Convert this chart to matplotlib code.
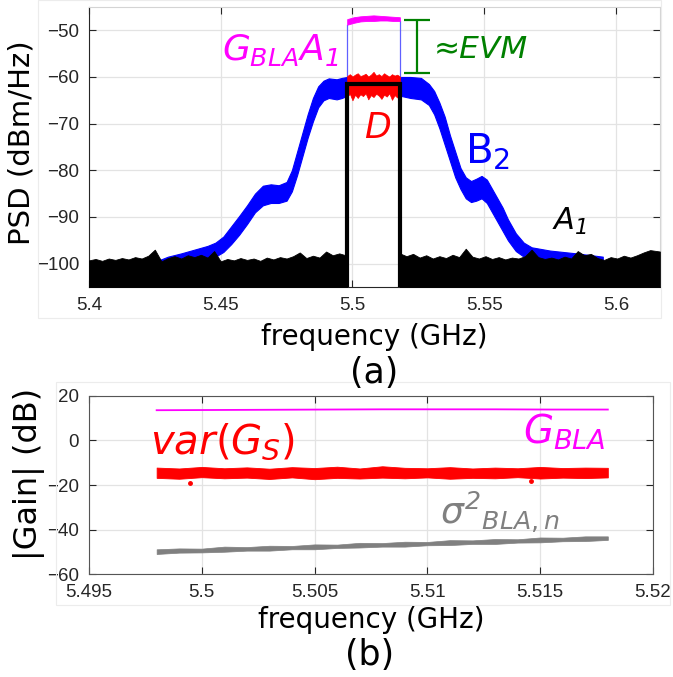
import matplotlib
matplotlib.use("Agg")
import matplotlib.pyplot as plt
from matplotlib.patches import Rectangle

plt.rcParams['font.family'] = ['DejaVu Sans']
plt.rcParams['mathtext.fontset'] = 'custom'
plt.rcParams['mathtext.rm'] = 'DejaVu Sans'
plt.rcParams['mathtext.it'] = 'DejaVu Sans:italic'
plt.rcParams['mathtext.bf'] = 'DejaVu Sans:bold'
# \mathsf used for slanted digits in subscripts
plt.rcParams['mathtext.sf'] = 'DejaVu Sans:italic'

# ---- (a) PSD spectra ----
# A1 noise floor, top edge (dBm/Hz), left and right of the band
a1_left_f = [5.4000, 5.4025, 5.4050, 5.4075, 5.4100, 5.4125, 5.4150, 5.4175, 5.4200, 5.4225,
             5.4250, 5.4275, 5.4300, 5.4325, 5.4350, 5.4375, 5.4400, 5.4425, 5.4450, 5.4475,
             5.4500, 5.4525, 5.4550, 5.4575, 5.4600, 5.4625, 5.4650, 5.4675, 5.4700, 5.4725,
             5.4750, 5.4775, 5.4800, 5.4825, 5.4850, 5.4875, 5.4900, 5.4925, 5.4950, 5.4980]
a1_left_top = [-99.3, -99.0, -99.4, -98.9, -99.2, -98.8, -99.1, -98.6, -98.9, -98.3,
               -97.0, -99.5, -98.8, -98.4, -98.9, -98.2, -98.6, -98.1, -98.7, -97.3,
               -99.5, -99.0, -99.3, -98.8, -99.2, -98.9, -99.4, -98.7, -99.1, -98.6,
               -98.9, -98.4, -97.6, -98.8, -98.3, -98.7, -97.4, -98.2, -97.8, -98.3]
a1_right_f = [5.5180, 5.5205, 5.5230, 5.5255, 5.5280, 5.5305, 5.5330, 5.5355, 5.5380, 5.5405,
              5.5430, 5.5455, 5.5480, 5.5505, 5.5530, 5.5555, 5.5580, 5.5605, 5.5630, 5.5655,
              5.5680, 5.5705, 5.5730, 5.5755, 5.5780, 5.5805, 5.5830, 5.5855, 5.5880, 5.5905,
              5.5930, 5.5955, 5.5980, 5.6005, 5.6030, 5.6055, 5.6080, 5.6105, 5.6130, 5.6167]
a1_right_top = [-97.8, -98.4, -97.9, -98.7, -98.2, -98.9, -98.4, -98.8, -98.1, -98.6,
                -96.8, -98.5, -98.9, -98.4, -99.0, -98.6, -99.1, -98.7, -98.9, -98.4,
                -97.0, -98.6, -99.0, -98.7, -99.1, -98.5, -98.9, -97.3, -98.2, -97.9,
                -98.8, -99.2, -98.6, -98.9, -98.3, -98.7, -98.2, -97.6, -97.1, -97.4]
a1_band_edges = [5.498, 5.518]
a1_band_level = -61.4

# B2 output spectrum envelope
b2_left_f = [5.4255, 5.430, 5.435, 5.440, 5.445, 5.448, 5.451, 5.454, 5.457, 5.460,
             5.463, 5.466, 5.469, 5.472, 5.475, 5.477, 5.479, 5.481, 5.483, 5.485,
             5.487, 5.489, 5.491, 5.494, 5.496, 5.498]
b2_left_lo = [-100.0, -99.8, -99.5, -99.3, -99.0, -98.5, -97.5, -95.8, -93.8, -91.5,
              -89.0, -87.5, -87.0, -87.0, -86.5, -84.5, -81.0, -77.0, -73.0, -69.5,
              -66.5, -65.0, -64.5, -64.8, -64.5, -64.0]
b2_left_hi = [-99.5, -98.5, -97.8, -97.0, -96.2, -95.5, -94.2, -92.0, -89.8, -87.5,
              -85.0, -83.3, -83.0, -83.2, -82.5, -80.0, -76.0, -72.0, -68.0, -64.5,
              -62.0, -60.8, -60.3, -60.5, -60.2, -60.0]
b2_right_f = [5.518, 5.522, 5.526, 5.529, 5.531, 5.533, 5.535, 5.537, 5.539, 5.541,
              5.543, 5.545, 5.547, 5.549, 5.551, 5.553, 5.555, 5.557, 5.559, 5.562,
              5.565, 5.568, 5.575, 5.585, 5.595]
b2_right_lo = [-64.0, -64.5, -64.8, -66.0, -68.0, -71.0, -74.5, -78.0, -81.5, -84.0,
               -86.0, -86.8, -86.5, -86.0, -87.0, -89.0, -91.0, -93.0, -95.0, -97.3,
               -98.5, -99.0, -99.2, -99.5, -100.0]
b2_right_hi = [-60.0, -60.0, -60.2, -61.5, -63.0, -65.5, -68.5, -72.5, -76.0, -79.5,
               -81.5, -82.3, -81.8, -81.2, -82.0, -84.0, -86.0, -88.0, -90.5, -93.5,
               -95.5, -96.5, -97.2, -97.8, -98.5]

# G_BLA * A1 (linear part)
ga_f = [5.498, 5.5005, 5.503, 5.5055, 5.508, 5.5105, 5.513, 5.5155, 5.518]
ga_hi = [-47.6, -47.2, -47.0, -46.9, -46.8, -46.9, -47.0, -47.1, -47.2]
ga_lo = [-48.8, -48.4, -48.1, -48.0, -48.0, -47.9, -47.9, -48.0, -48.0]

# D (distortion) inside the band
d_f = [5.498, 5.499, 5.500, 5.501, 5.502, 5.503, 5.504, 5.505, 5.506, 5.507, 5.508,
       5.509, 5.510, 5.511, 5.512, 5.513, 5.514, 5.515, 5.516, 5.517, 5.518]
d_hi = [-59.8, -59.4, -59.9, -59.5, -59.2, -59.8, -59.6, -59.3, -59.9, -59.5, -58.9,
        -59.7, -59.4, -59.8, -59.2, -59.6, -59.9, -59.4, -59.7, -59.5, -59.9]
d_lo = [-64.2, -63.6, -65.0, -63.8, -64.5, -63.7, -64.1, -63.5, -64.8, -63.9, -64.3,
        -63.6, -64.0, -64.7, -63.8, -64.2, -63.5, -64.9, -63.9, -64.4, -64.0]

# EVM marker
evm_f = 5.5244
evm_top, evm_bot = -47.8, -59.1

# ---- (b) gains ----
g_f = [5.498, 5.5005, 5.503, 5.5055, 5.508, 5.5105, 5.513, 5.5155, 5.518]
g_bla = [13.5, 13.6, 13.7, 13.8, 13.9, 13.9, 13.9, 13.8, 13.8]

b_f = [5.498, 5.499, 5.500, 5.501, 5.502, 5.503, 5.504, 5.505, 5.506, 5.507, 5.508,
       5.509, 5.510, 5.511, 5.512, 5.513, 5.514, 5.515, 5.516, 5.517, 5.518]
vs_hi = [-12.2, -12.6, -11.9, -12.5, -12.1, -12.7, -12.0, -12.4, -11.8, -12.6, -11.6,
         -12.3, -12.5, -12.0, -12.6, -12.2, -12.5, -11.9, -12.4, -12.2, -12.3]
vs_lo = [-16.8, -17.2, -16.5, -17.0, -16.7, -17.3, -16.6, -17.4, -16.8, -17.1, -16.7,
         -17.0, -16.6, -17.2, -16.8, -17.0, -16.5, -17.1, -16.7, -16.9, -16.6]
vs_out_f = [5.4995, 5.5146]
vs_out = [-19.2, -18.3]

sg_hi = [-48.8, -48.4, -48.5, -47.6, -47.8, -47.2, -47.3, -46.6, -46.7, -45.9, -46.0,
         -45.4, -45.5, -44.7, -44.8, -44.2, -44.3, -43.5, -43.6, -43.0, -43.0]
sg_lo = [-50.9, -50.3, -50.2, -49.9, -49.4, -49.4, -48.8, -48.8, -48.2, -48.0, -47.6,
         -47.6, -47.0, -46.9, -46.4, -46.4, -45.8, -45.7, -45.2, -45.1, -44.6]

top_xticks = [5.4, 5.45, 5.5, 5.55, 5.6]
top_yticks = [-100, -90, -80, -70, -60, -50]
bot_xticks = [5.495, 5.5, 5.505, 5.51, 5.515, 5.52]
bot_xlabels = ['5.495', '5.5', '5.505', '5.51', '5.515', '5.52']
bot_yticks = [-60, -40, -20, 0, 20]

MAG = '#ff00ff'
RED = '#ff0000'
BLUE = '#0000ff'
GREEN = '#008000'
GRAY = '#808080'
TICK = '#262626'

fig = plt.figure(figsize=(6.73, 6.77), dpi=100)

# faint panel frames
fig.patches.append(Rectangle((38 / 673, 1 - 318 / 677), (661 - 38) / 673, 318 / 677,
                             transform=fig.transFigure, fill=False, ec='#ececec', lw=0.8))
fig.patches.append(Rectangle((56 / 673, 1 - 605 / 677), (670 - 56) / 673, (605 - 382) / 677,
                             transform=fig.transFigure, fill=False, ec='#ececec', lw=0.8))

ax1 = fig.add_axes([0.1322, 0.5761, 0.8484, 0.4136])
ax2 = fig.add_axes([0.1322, 0.1517, 0.8380, 0.2638])


def style(ax):
    ax.grid(True, color='#e3e3e3', lw=0.9)
    ax.set_axisbelow(True)
    ax.tick_params(direction='in', length=5, width=0.8, color=TICK,
                   top=True, right=True, labelsize=13.5, labelcolor=TICK, pad=7)
    for lab in ax.get_xticklabels() + ax.get_yticklabels():
        lab.set_fontfamily('Liberation Sans')


# (a)
ax1.fill_between(b2_left_f, b2_left_lo, b2_left_hi, color=BLUE, lw=0.8, zorder=2)
ax1.fill_between(b2_right_f, b2_right_lo, b2_right_hi, color=BLUE, lw=0.8, zorder=2)
ax1.fill_between(a1_left_f, -105, a1_left_top, color='black', lw=0.6, zorder=3)
ax1.fill_between(a1_right_f, -105, a1_right_top, color='black', lw=0.6, zorder=3)
ax1.fill_between(d_f, d_lo, d_hi, color=RED, lw=0.5, zorder=4)
ax1.plot([a1_band_edges[0], a1_band_edges[0], a1_band_edges[1], a1_band_edges[1]],
         [-105, a1_band_level, a1_band_level, -105], color='black', lw=3, zorder=5,
         solid_joinstyle='miter')
ax1.fill_between(ga_f, ga_lo, ga_hi, color=MAG, lw=0.6, zorder=4)
ax1.plot([ga_f[0], ga_f[0]], [ga_lo[0], d_hi[0]], color='#6060ff', lw=0.9, zorder=3)
ax1.plot([ga_f[-1], ga_f[-1]], [ga_lo[-1], d_hi[-1]], color='#6060ff', lw=0.9, zorder=3)
ax1.errorbar([evm_f], [(evm_top + evm_bot) / 2], yerr=[(evm_top - evm_bot) / 2],
             color=GREEN, lw=1.6, capsize=9.4, capthick=1.6, zorder=5)

ax1.text(5.4505, -56.4, r'$\mathit{G_{BLA}A}_{\mathsf{1}}$', color=MAG, fontsize=26,
         ha='left', va='baseline')
ax1.text(5.5308, -56.0, '\u2248EVM', color=GREEN, fontsize=22.5, style='italic',
         ha='left', va='baseline')
ax1.text(5.5045, -73.1, 'D', color=RED, fontsize=25, style='italic',
         ha='left', va='baseline')
ax1.text(5.5429, -78.5, r'$\mathrm{B_{2}}$', color=BLUE, fontsize=29,
         ha='left', va='baseline')
ax1.text(5.5759, -92.85, r'$\mathit{A}_{\mathsf{1}}$', color='black', fontsize=22,
         ha='left', va='baseline')

ax1.set_xlim(5.4, 5.6167)
ax1.set_ylim(-105, -45)
ax1.set_xticks(top_xticks)
ax1.set_xticklabels([str(t) for t in top_xticks])
ax1.set_yticks(top_yticks)
style(ax1)
ax1.spines['left'].set_color(TICK)
ax1.spines['bottom'].set_color(TICK)
ax1.spines['top'].set_color('#d4d4d4')
ax1.spines['right'].set_color('#d4d4d4')

# (b)
ax2.plot(g_f, g_bla, color=MAG, lw=1.3, zorder=3)
ax2.fill_between(b_f, vs_lo, vs_hi, color=RED, lw=0.6, zorder=3)
ax2.plot(vs_out_f, vs_out, 'o', color=RED, ms=2.5, zorder=3)
ax2.fill_between(b_f, sg_lo, sg_hi, color=GRAY, lw=0.5, zorder=3)

ax2.text(5.4977, -5.7, r'$\mathit{var(G_{S})}$', color=RED, fontsize=29,
         ha='left', va='baseline')
ax2.text(5.51425, -1.3, r'$\mathit{G_{BLA}}$', color=MAG, fontsize=28,
         ha='left', va='baseline')
ax2.text(5.51055, -37.4, r'$\mathit{\sigma}^{\mathsf{2}}{}_{\mathit{BLA,n}}$', color=GRAY,
         fontsize=26, ha='left', va='baseline')

ax2.set_xlim(5.495, 5.52)
ax2.set_ylim(-60, 20)
ax2.set_xticks(bot_xticks)
ax2.set_xticklabels(bot_xlabels)
ax2.set_yticks(bot_yticks)
style(ax2)
for s in ax2.spines.values():
    s.set_color('#555555')

# axis labels and panel tags
fig.text(374.5 / 673, 1 - 337 / 677, 'frequency (GHz)', fontsize=20, ha='center', va='center')
fig.text(374 / 673, 1 - 372.5 / 677, '(a)', fontsize=25, ha='center', va='center')
fig.text(21.5 / 673, 1 - 143 / 677, 'PSD (dBm/Hz)', fontsize=21, rotation=90,
         ha='center', va='center')
fig.text(371 / 673, 1 - 620 / 677, 'frequency (GHz)', fontsize=20, ha='center', va='center')
fig.text(370 / 673, 1 - 655 / 677, '(b)', fontsize=25, ha='center', va='center')
fig.text(29 / 673, 1 - 474 / 677, '|Gain| (dB)', fontsize=23, rotation=90,
         ha='center', va='center')

fig.savefig('out.png', dpi=100)
